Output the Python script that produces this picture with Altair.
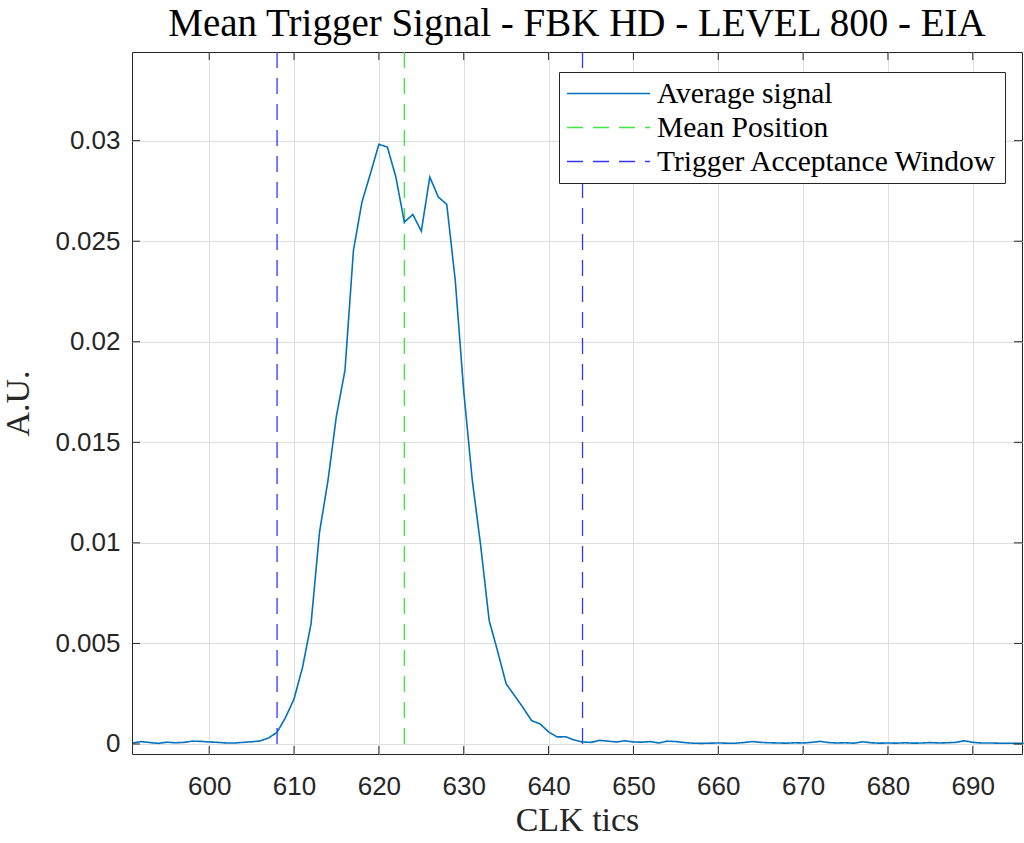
import altair as alt
import pandas as pd

# ---- data ----
clk = list(range(591, 697))
signal = [
    0.00005, 0.00012, 0.00007, 0.00003, 0.00009, 0.00006, 0.00008, 0.00014, 0.00013, 0.00010,  # 591-600
    0.00008, 0.00005, 0.00005, 0.00008, 0.00011, 0.00015, 0.00030, 0.00058, 0.00132, 0.00224,  # 601-610
    0.00381, 0.00597, 0.01053, 0.01310, 0.01633, 0.01857, 0.02454, 0.02694, 0.02836, 0.02982,  # 611-620
    0.02968, 0.02819, 0.02595, 0.02633, 0.02550, 0.02819, 0.02720, 0.02683, 0.02305, 0.01754,  # 621-630
    0.01315, 0.00985, 0.00613, 0.00460, 0.00299, 0.00240, 0.00180, 0.00116, 0.00100, 0.00060,  # 631-640
    0.00035, 0.00036, 0.00020, 0.00010, 0.00008, 0.00018, 0.00014, 0.00010, 0.00016, 0.00010,  # 641-650
    0.00009, 0.00012, 0.00005, 0.00014, 0.00012, 0.00007, 0.00004, 0.00003, 0.00004, 0.00005,  # 651-660
    0.00004, 0.00004, 0.00007, 0.00012, 0.00008, 0.00006, 0.00005, 0.00004, 0.00006, 0.00005,  # 661-670
    0.00008, 0.00013, 0.00007, 0.00005, 0.00006, 0.00004, 0.00011, 0.00006, 0.00004, 0.00005,  # 671-680
    0.00004, 0.00006, 0.00004, 0.00005, 0.00007, 0.00005, 0.00006, 0.00008, 0.00016, 0.00008,  # 681-690
    0.00005, 0.00005, 0.00004, 0.00004, 0.00003, 0.00003,                                      # 691-696
]
series_names = ["Average signal", "Mean Position", "Trigger Acceptance Window"]
vline_pos = [623, 608, 644]
vline_series = ["Mean Position", "Trigger Acceptance Window", "Trigger Acceptance Window"]
x_ticks = [600, 610, 620, 630, 640, 650, 660, 670, 680, 690]
y_ticks = [0, 0.005, 0.01, 0.015, 0.02, 0.025, 0.03]

W, H = 890, 702
X_DOMAIN = [590.9, 695.8]
Y_DOMAIN = [-0.000498, 0.034408]

sig_df = pd.DataFrame({"clk": clk, "val": signal, "series": "Average signal"})
vl_df = pd.DataFrame({"clk": vline_pos, "series": vline_series})
xt_df = pd.DataFrame({"clk": x_ticks})
yt_df = pd.DataFrame({"val": y_ticks})

color_scale = alt.Scale(domain=series_names, range=["#0072BD", "#3ee83e", "#3434ff"])
dash_scale = alt.Scale(domain=series_names, range=[[1, 0], [16, 10], [16, 10]])

legend = alt.Legend(
    title=None, orient="none", legendX=427, legendY=20,
    symbolType="stroke", symbolSize=6889, symbolStrokeWidth=1.5,
    clipHeight=29, rowPadding=4, labelOffset=6, padding=7,
    labelFont="Liberation Serif", labelFontSize=29.5, labelColor="#000000",
    fillColor="#ffffff", strokeColor="#262626", cornerRadius=0,
    labelLimit=600,
)

xscale = alt.Scale(domain=X_DOMAIN, nice=False, zero=False)
yscale = alt.Scale(domain=Y_DOMAIN, nice=False, zero=False)

xaxis = alt.Axis(values=x_ticks, title="CLK tics", format="d", labelPadding=19,
                 titlePadding=4)
yaxis = alt.Axis(values=y_ticks, title="A.U.", format="~g", labelPadding=12,
                 titlePadding=19)

line = alt.Chart(sig_df).mark_line(strokeWidth=1.6).encode(
    x=alt.X("clk:Q", scale=xscale, axis=xaxis),
    y=alt.Y("val:Q", scale=yscale, axis=yaxis),
    color=alt.Color("series:N", scale=color_scale, legend=legend),
    strokeDash=alt.StrokeDash("series:N", scale=dash_scale, legend=legend),
)

vlines = alt.Chart(vl_df).mark_rule(strokeWidth=1.3).encode(
    x=alt.X("clk:Q", scale=xscale),
    color=alt.Color("series:N", scale=color_scale, legend=legend),
    strokeDash=alt.StrokeDash("series:N", scale=dash_scale, legend=legend),
)

TICK = 8
tick_color = "#262626"
bottom_ticks = alt.Chart(xt_df).mark_rule(color=tick_color, strokeWidth=1).encode(
    x=alt.X("clk:Q", scale=xscale), y=alt.value(H), y2=alt.value(H - TICK))
top_ticks = alt.Chart(xt_df).mark_rule(color=tick_color, strokeWidth=1).encode(
    x=alt.X("clk:Q", scale=xscale), y=alt.value(0), y2=alt.value(TICK))
left_ticks = alt.Chart(yt_df).mark_rule(color=tick_color, strokeWidth=1).encode(
    y=alt.Y("val:Q", scale=yscale), x=alt.value(0), x2=alt.value(TICK))
right_ticks = alt.Chart(yt_df).mark_rule(color=tick_color, strokeWidth=1).encode(
    y=alt.Y("val:Q", scale=yscale), x=alt.value(W - TICK), x2=alt.value(W))

chart = alt.layer(
    vlines, line, bottom_ticks, top_ticks, left_ticks, right_ticks
).properties(
    width=W, height=H,
    title=alt.TitleParams(
        "Mean Trigger Signal - FBK HD - LEVEL 800 - EIA",
        font="Liberation Serif", fontSize=39, fontWeight="normal",
        color="#000000", anchor="middle", frame="group", offset=7,
    ),
    autosize=alt.AutoSizeParams(type="none"),
    padding={"left": 132, "top": 52, "right": 2, "bottom": 89},
    background="#ffffff",
).configure_view(
    stroke="#262626", strokeWidth=1,
).configure_axis(
    domain=False, ticks=False,
    grid=True, gridColor="#dedede", gridWidth=1,
    labelFont="Liberation Sans", labelFontSize=26, labelColor="#262626",
    titleFont="Liberation Serif", titleFontSize=34, titleFontWeight="normal",
    titleColor="#262626",
).resolve_scale(color="shared", strokeDash="shared")

chart.save("out.html", embed_options={"renderer": "svg", "actions": False})
